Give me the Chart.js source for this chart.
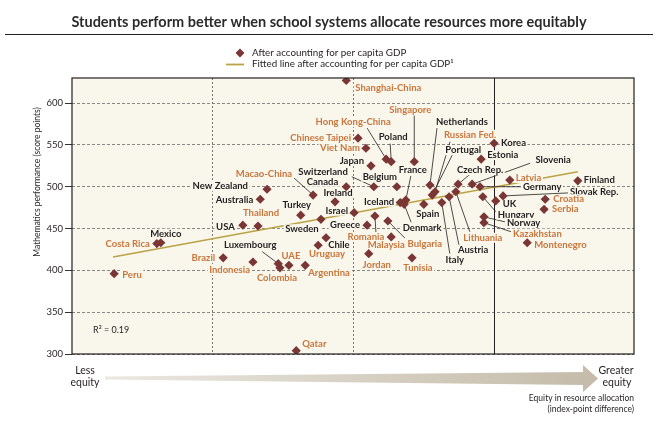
<!DOCTYPE html>
<html>
<head>
<meta charset="utf-8">
<script src="https://cdn.jsdelivr.net/npm/chart.js@4"></script>
<style>
  html, body { margin: 0; padding: 0; background: #fff; }
  #wrap { width: 658px; height: 424px; position: relative; }
</style>
</head>
<body>
<div id="wrap"><canvas id="equityChart"></canvas></div>
<script>
// Countries, equity index (left = less equity) and maths score after GDP adjustment
const countries = [
    "Shanghai-China", "Singapore", "Hong Kong-China", "Poland", "Chinese Taipei", "Viet Nam",
    "Japan", "Netherlands", "Russian Fed.", "Portugal", "Korea", "Estonia",
    "Czech Rep.", "Slovenia", "Latvia", "Germany", "Finland", "Slovak Rep.",
    "UK", "Hungary", "Norway", "Kazakhstan", "Croatia", "Serbia",
    "Montenegro", "Lithuania", "Austria", "Italy", "Spain", "France",
    "Iceland", "Denmark", "Belgium", "Switzerland", "Canada", "Ireland",
    "Israel", "Greece", "Romania", "Bulgaria", "Malaysia", "Jordan",
    "Tunisia", "Macao-China", "New Zealand", "Australia", "Turkey", "Thailand",
    "USA", "Sweden", "Chile", "Uruguay", "Mexico", "Costa Rica",
    "Luxembourg", "Colombia", "UAE", "Argentina", "Brazil", "Indonesia",
    "Peru", "Qatar"
];
const equity = [
    48.8, 60.9, 55.9, 56.8, 50.9, 52.3,
    53.2, 63.7, 64.6, 64.1, 75.1, 72.8,
    68.7, 71.2, 77.9, 72.6, 90.0, 76.7,
    75.4, 73.1, 73.3, 73.3, 84.2, 84.0,
    81.0, 68.3, 67.1, 65.8, 62.6, 59.4,
    58.4, 59.1, 57.8, 53.7, 48.8, 46.8,
    50.2, 52.5, 53.9, 56.2, 56.8, 52.8,
    60.5, 42.9, 34.7, 33.5, 40.7, 33.1,
    30.4, 44.3, 43.8, 45.2, 15.8, 15.1,
    36.7, 37.0, 38.6, 41.5, 26.9, 32.2,
    7.5, 39.9
];
const maths = [
    627, 530, 533, 530, 558, 546,
    525, 502, 494, 490, 552, 533,
    503, 503, 508, 500, 507, 489,
    483, 488, 464, 457, 485, 473,
    433, 494, 488, 481, 479, 484,
    481, 479, 500, 500, 500, 482,
    469, 454, 465, 459, 440, 420,
    415, 490, 497, 485, 466, 453,
    454, 461, 430, 439, 433, 432,
    408, 403, 406, 406, 415, 410,
    396, 304
];
// 1 = partner economy (orange label), 0 = OECD (black label)
const partner = [
    1, 1, 1, 0, 1, 1,
    0, 0, 1, 0, 0, 0,
    0, 0, 1, 0, 0, 0,
    0, 0, 0, 1, 1, 1,
    1, 1, 0, 0, 0, 0,
    0, 0, 0, 0, 0, 0,
    0, 0, 1, 1, 1, 1,
    1, 1, 0, 0, 0, 1,
    0, 0, 0, 1, 0, 1,
    0, 1, 1, 1, 1, 1,
    1, 1
];
// fitted line end points
const fitX = [7.3, 90.0];
const fitY = [416, 518];
const yTicks = [300, 350, 400, 450, 500, 550, 600];
const xGrid = [25, 50, 75];

const ORANGE = "#c9763c";
const INK = "#231f20";
const MARKER = "#7a3535";
const CREAM = "#f9f7ec";
const FIT = "#bba244";
const FONT = "Lato, 'Open Sans', sans-serif";

// label placement: [dx, dy, align, leaderDx, leaderDy] in pixels from the marker
const labelPos = {
    "Shanghai-China": [9, 7, "left"],
    "Singapore": [-4, -52, "center", 0, -46],
    "Hong Kong-China": [-33, -37, "center", -19, -31],
    "Poland": [2, -25, "center", -1, -18],
    "Chinese Taipei": [-7, 0, "right"],
    "Viet Nam": [-6, 0, "right"],
    "Japan": [-7, -5, "right"],
    "Netherlands": [32, -63, "center", 7, -57],
    "Russian Fed.": [35, -57, "center", 15, -50],
    "Portugal": [31, -45, "center", 20, -40],
    "Korea": [7, 0, "left"],
    "Estonia": [6, -4, "left"],
    "Czech Rep.": [22, -14, "center", 12, -10],
    "Slovenia": [81, -24, "center", 58, -21],
    "Latvia": [6, -2, "left"],
    "Germany": [43, 0, "left", 41, 0],
    "Finland": [6, -1, "left"],
    "Slovak Rep.": [67, -4, "left", 65, -3],
    "UK": [7, 3, "left"],
    "Hungary": [15, 18, "left", 13, 15],
    "Norway": [23, 6, "left", 21, 5],
    "Kazakhstan": [29, 11, "left", 27, 9],
    "Croatia": [8, 0, "left"],
    "Serbia": [8, 0, "left"],
    "Montenegro": [7, 2, "left"],
    "Lithuania": [27, 46, "center", 14, 40],
    "Austria": [24, 53, "center", 10, 49],
    "Italy": [13, 57, "center", 8, 51],
    "Spain": [4, 10, "center"],
    "France": [7, -30, "center", 5, -24],
    "Iceland": [-6, -1, "right"],
    "Denmark": [18, 24, "center", 7, 18],
    "Belgium": [-17, -10, "center"],
    "Switzerland": [-26, -15, "right", -22, -10],
    "Canada": [-8, -5, "right"],
    "Ireland": [3, -9, "center"],
    "Israel": [-6, -2, "right"],
    "Greece": [-7, 0, "right"],
    "Romania": [-9, 21, "center", 1, 16],
    "Bulgaria": [37, 23, "center", 17, 17],
    "Malaysia": [-5, 8, "center"],
    "Jordan": [8, 11, "center"],
    "Tunisia": [6, 10, "center"],
    "Macao-China": [-21, -21, "right", -19, -17],
    "New Zealand": [-19, -3, "right"],
    "Australia": [-7, 1, "right"],
    "Turkey": [-4, -10, "center"],
    "Thailand": [3, -13, "center"],
    "USA": [-8, 2, "right"],
    "Sweden": [-19, 10, "center"],
    "Chile": [10, 0, "left"],
    "Uruguay": [1, 16, "center"],
    "Mexico": [5, -9, "center"],
    "Costa Rica": [-7, 0, "right"],
    "Luxembourg": [-28, -19, "center", -16, -12],
    "Colombia": [-3, 10, "center"],
    "UAE": [2, -9, "center"],
    "Argentina": [3, 8, "left"],
    "Brazil": [-8, 0, "right"],
    "Indonesia": [-3, 8, "right"],
    "Peru": [8, 1, "left"],
    "Qatar": [6, -7, "left"]
};

// country labels + leader lines, drawn after the fitted line but under the markers
function drawLabels(chart) {
    const ctx = chart.ctx, xs = chart.scales.x, ys = chart.scales.y;
    ctx.save();
    ctx.strokeStyle = INK;
    ctx.lineWidth = 0.8;
    countries.forEach((name, i) => {
        const p = labelPos[name];
        if (!p || p[3] === undefined) return;
        const px = xs.getPixelForValue(equity[i]), py = ys.getPixelForValue(maths[i]);
        ctx.beginPath();
        ctx.moveTo(px, py);
        ctx.lineTo(px + p[3], py + p[4]);
        ctx.stroke();
    });
    ctx.font = "bold 9.5px " + FONT;
    ctx.textBaseline = "middle";
    countries.forEach((name, i) => {
        const p = labelPos[name];
        if (!p) return;
        const px = xs.getPixelForValue(equity[i]), py = ys.getPixelForValue(maths[i]);
        const tx = px + p[0], ty = py + p[1];
        const w = ctx.measureText(name).width;
        const left = p[2] === "left" ? tx : p[2] === "right" ? tx - w : tx - w / 2;
        ctx.fillStyle = CREAM;
        ctx.fillRect(left - 1.5, ty - 5, w + 3, 10);
        ctx.fillStyle = partner[i] ? ORANGE : INK;
        ctx.textAlign = p[2];
        ctx.fillText(name, tx, ty);
    });
    ctx.restore();
}

const decor = {
    id: "decor",
    beforeDraw(chart) {
        const { ctx, chartArea: a } = chart;
        ctx.save();
        ctx.fillStyle = CREAM;
        ctx.fillRect(a.left, a.top, a.right - a.left, a.bottom - a.top);
        ctx.restore();
    },
    beforeDatasetsDraw(chart) {
        const { ctx, chartArea: a } = chart;
        const x75 = chart.scales.x.getPixelForValue(75);
        ctx.save();
        ctx.strokeStyle = INK;
        ctx.lineWidth = 1;
        ctx.beginPath();
        ctx.moveTo(Math.round(x75) + 0.5, a.top);
        ctx.lineTo(Math.round(x75) + 0.5, a.bottom);
        ctx.stroke();
        ctx.restore();
    },
    afterDatasetDraw(chart, args) {
        if (args.index === 1) drawLabels(chart);
    },
    afterDraw(chart) {
        const { ctx, chartArea: a } = chart;
        ctx.save();
        // plot frame
        ctx.strokeStyle = INK;
        ctx.lineWidth = 1.2;
        ctx.strokeRect(a.left, a.top, a.right - a.left, a.bottom - a.top);

        // title and rule
        ctx.fillStyle = "#2b2b2b";
        ctx.font = "bold 14.5px " + FONT;
        ctx.textAlign = "center";
        ctx.textBaseline = "middle";
        ctx.fillText("Students perform better when school systems allocate resources more equitably", 329, 22);
        ctx.lineWidth = 1;
        ctx.beginPath();
        ctx.moveTo(5, 34.5);
        ctx.lineTo(653, 34.5);
        ctx.stroke();

        // legend
        ctx.fillStyle = MARKER;
        ctx.beginPath();
        ctx.moveTo(240, 48.5); ctx.lineTo(244.5, 53); ctx.lineTo(240, 57.5); ctx.lineTo(235.5, 53);
        ctx.closePath();
        ctx.fill();
        ctx.strokeStyle = FIT;
        ctx.lineWidth = 1.8;
        ctx.beginPath();
        ctx.moveTo(226, 64.5); ctx.lineTo(244, 64.5);
        ctx.stroke();
        ctx.fillStyle = INK;
        ctx.font = "9.8px " + FONT;
        ctx.textAlign = "left";
        ctx.fillText("After accounting for per capita GDP", 252, 52.5);
        ctx.fillText("Fitted line after accounting for per capita GDP\u00b9", 252, 64);

        // y axis title
        ctx.save();
        ctx.translate(37, 182);
        ctx.rotate(-Math.PI / 2);
        ctx.textAlign = "center";
        ctx.font = "8.5px " + FONT;
        ctx.fillText("Mathematics performance (score points)", 0, 0);
        ctx.restore();

        // R squared
        ctx.font = "9px " + FONT;
        ctx.textAlign = "left";
        ctx.fillText("R\u00b2 = 0.19", 93, 330);

        // equity arrow
        const g = ctx.createLinearGradient(105, 0, 598, 0);
        g.addColorStop(0, "#ebe8e1");
        g.addColorStop(1, "#c4bba9");
        ctx.fillStyle = g;
        ctx.beginPath();
        ctx.moveTo(105, 376.5);
        ctx.lineTo(583, 372);
        ctx.lineTo(583, 365);
        ctx.lineTo(598, 378.5);
        ctx.lineTo(583, 392);
        ctx.lineTo(583, 385);
        ctx.lineTo(105, 379.5);
        ctx.closePath();
        ctx.fill();

        ctx.fillStyle = INK;
        ctx.font = "10.5px " + FONT;
        ctx.textAlign = "center";
        ctx.fillText("Less", 85, 371);
        ctx.fillText("equity", 85, 383);
        ctx.fillText("Greater", 616, 371);
        ctx.fillText("equity", 617, 383);
        ctx.font = "8.5px " + FONT;
        ctx.textAlign = "right";
        ctx.fillText("Equity in resource allocation", 634, 398);
        ctx.fillText("(index-point difference)", 634, 409);
        ctx.restore();
    }
};

new Chart(document.getElementById("equityChart"), {
    type: "scatter",
    data: {
        datasets: [{
            label: "After accounting for per capita GDP",
            data: countries.map((c, i) => ({ x: equity[i], y: maths[i] })),
            pointStyle: "rectRot",
            pointRadius: 4.6,
            pointHoverRadius: 4.6,
            backgroundColor: MARKER,
            borderWidth: 0,
            order: 0
        }, {
            type: "line",
            label: "Fitted line after accounting for per capita GDP",
            data: fitX.map((x, i) => ({ x: x, y: fitY[i] })),
            borderColor: FIT,
            borderWidth: 1.5,
            pointRadius: 0,
            fill: false,
            order: 1
        }]
    },
    options: {
        responsive: true,
        maintainAspectRatio: false,
        animation: false,
        events: [],
        layout: { padding: { left: 0, top: 78, right: 24, bottom: 70 } },
        plugins: { legend: { display: false }, tooltip: { enabled: false } },
        scales: {
            x: {
                type: "linear",
                min: 0,
                max: 100,
                afterBuildTicks: axis => { axis.ticks = xGrid.map(v => ({ value: v })); },
                afterFit: axis => { axis.height = 0; },
                ticks: { display: false },
                grid: {
                    drawTicks: false,
                    color: c => c.tick && c.tick.value === 75 ? "rgba(0,0,0,0)" : "#555",
                    lineWidth: 0.8
                },
                border: { display: false, dash: [2, 2] }
            },
            y: {
                min: 300,
                max: 630,
                afterBuildTicks: axis => { axis.ticks = yTicks.map(v => ({ value: v })); },
                afterFit: axis => { axis.width = 72; },
                ticks: {
                    color: INK,
                    font: { family: FONT, size: 9.5 },
                    padding: 2
                },
                grid: {
                    color: "#6a6a6a",
                    lineWidth: 0.8,
                    tickColor: "#333",
                    tickLength: 7,
                    tickWidth: 1
                },
                border: { display: false, dash: [3, 2] }
            }
        }
    },
    plugins: [decor]
});
</script>
</body>
</html>
